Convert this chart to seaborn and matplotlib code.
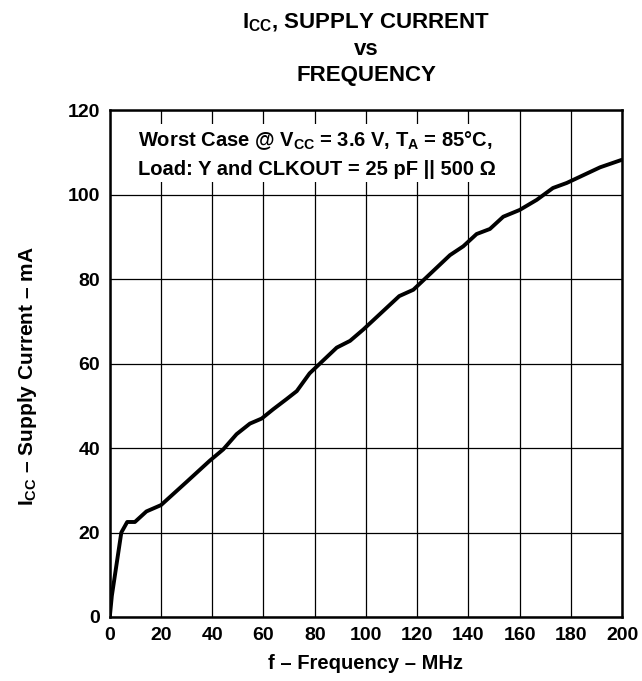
import matplotlib
matplotlib.use("Agg")
import matplotlib.pyplot as plt
import seaborn as sns
import pandas as pd

# values
freq_mhz = [0, 0.8, 4.5, 6.8, 9.8, 14.3, 20, 30, 39, 44.3, 49.5, 54.7, 59.3,
            63.8, 69, 73, 78, 88.6, 93.8, 99, 113, 118.5, 132.8, 138, 143.2,
            148.4, 153.6, 160, 166.7, 173, 178.4, 191.4, 200]
icc_ma = [0, 5, 20, 22.5, 22.5, 25, 26.5, 32, 37, 39.7, 43.3, 45.8, 47,
          49.2, 51.6, 53.5, 57.7, 63.8, 65.4, 68.1, 76, 77.5, 85.7, 87.8, 90.7,
          91.9, 94.8, 96.4, 98.8, 101.6, 102.8, 106.5, 108.3]
x_ticks = [0, 20, 40, 60, 80, 100, 120, 140, 160, 180, 200]
y_ticks = [0, 20, 40, 60, 80, 100, 120]

sns.set_style("white")
plt.rcParams["font.family"] = ["Liberation Sans", "DejaVu Sans"]
plt.rcParams["font.weight"] = "bold"
plt.rcParams["text.color"] = "black"
plt.rcParams["axes.labelcolor"] = "black"
plt.rcParams["xtick.color"] = "black"
plt.rcParams["ytick.color"] = "black"
plt.rcParams["mathtext.fontset"] = "custom"
plt.rcParams["mathtext.rm"] = "Liberation Sans:bold"
plt.rcParams["mathtext.bf"] = "Liberation Sans:bold"
plt.rcParams["mathtext.it"] = "Liberation Sans:bold"

df = pd.DataFrame({"f": freq_mhz, "icc": icc_ma})

fig = plt.figure(figsize=(6.42, 6.81), dpi=100)
ax = fig.add_axes([0.171, 0.094, 0.798, 0.744])

sns.lineplot(data=df, x="f", y="icc", color="black", linewidth=2.8,
             estimator=None, sort=False, ax=ax, zorder=4)

ax.set_xlim(0, 200)
ax.set_ylim(0, 120)
ax.set_xticks(x_ticks)
ax.set_yticks(y_ticks)
ax.grid(True, color="black", linewidth=0.9)
ax.set_axisbelow(True)
for s in ax.spines.values():
    s.set_visible(True)
    s.set_color("black")
    s.set_linewidth(1.8)
ax.tick_params(length=0, labelsize=14, pad=7)
for lbl in ax.get_xticklabels() + ax.get_yticklabels():
    lbl.set_fontweight("bold")

ax.set_xlabel("f – Frequency – MHz", fontsize=14.5, fontweight="bold",
              va="center")
ax.xaxis.set_label_coords(0.5, -0.091)
ax.set_ylabel("I$_\\mathregular{CC}$ – Supply Current – mA", fontsize=15,
              fontweight="bold", va="center")
ax.yaxis.set_label_coords(-0.16, 0.475)

fig.text(0.57, 0.982, "I$_\\mathregular{CC}$, SUPPLY CURRENT\nvs\nFREQUENCY",
         ha="center", va="top", fontsize=16, fontweight="bold",
         linespacing=1.3)

ax.text(0.055, 0.963,
        "Worst Case @ V$_\\mathregular{CC}$ = 3.6 V, T$_\\mathregular{A}$ = 85°C,\n"
        "Load: Y and CLKOUT = 25 pF || 500 Ω",
        transform=ax.transAxes, ha="left", va="top", fontsize=14.5,
        fontweight="bold", linespacing=1.55, zorder=5,
        bbox=dict(facecolor="white", edgecolor="none", pad=2))

fig.savefig("out.png", dpi=100)
